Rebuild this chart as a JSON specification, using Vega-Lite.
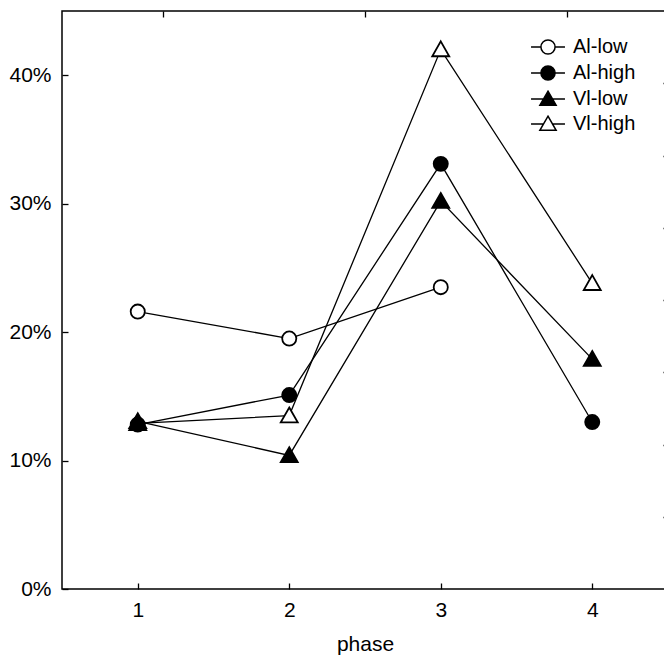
{
  "$schema": "https://vega.github.io/schema/vega-lite/v6.json",
  "width": 606,
  "height": 578,
  "autosize": {"type": "none"},
  "padding": {"left": 62, "top": 11, "right": 0, "bottom": 71},
  "config": {
    "font": "Liberation Sans",
    "view": {"stroke": "black", "strokeWidth": 1.5},
    "axis": {
      "domain": false,
      "grid": false,
      "tickColor": "black",
      "tickWidth": 1.3,
      "labelColor": "black",
      "labelFontSize": 21,
      "titleFontSize": 21,
      "titleFontWeight": "normal",
      "titleColor": "black"
    }
  },
  "data": {
    "values": [
      {"phase": 1, "value": 0.216, "group": "Al-low"},
      {"phase": 2, "value": 0.195, "group": "Al-low"},
      {"phase": 3, "value": 0.235, "group": "Al-low"},
      {"phase": 1, "value": 0.129, "group": "Vl-high"},
      {"phase": 2, "value": 0.135, "group": "Vl-high"},
      {"phase": 3, "value": 0.420, "group": "Vl-high"},
      {"phase": 4, "value": 0.238, "group": "Vl-high"},
      {"phase": 1, "value": 0.128, "group": "Al-high"},
      {"phase": 2, "value": 0.151, "group": "Al-high"},
      {"phase": 3, "value": 0.331, "group": "Al-high"},
      {"phase": 4, "value": 0.130, "group": "Al-high"},
      {"phase": 1, "value": 0.1305, "group": "Vl-low"},
      {"phase": 2, "value": 0.104, "group": "Vl-low"},
      {"phase": 3, "value": 0.302, "group": "Vl-low"},
      {"phase": 4, "value": 0.179, "group": "Vl-low"}
    ]
  },
  "resolve": {
    "scale": {"shape": "independent", "fill": "independent"},
    "axis": {"x": "independent", "y": "independent"}
  },
  "layer": [
    {
      "mark": {"type": "line", "color": "black", "strokeWidth": 1.3},
      "encoding": {
        "x": {"field": "phase", "type": "quantitative",
              "scale": {"domain": [0.5, 4.5], "nice": false, "zero": false},
              "axis": {"orient": "bottom", "values": [1, 2, 3, 4], "tickSize": -6, "labelPadding": 16, "title": "phase", "titlePadding": 13}},
        "y": {"field": "value", "type": "quantitative",
              "scale": {"domain": [0, 0.45], "nice": false},
              "axis": {"orient": "left", "values": [0, 0.1, 0.2, 0.3, 0.4], "format": ".0%", "tickSize": -6, "labelPadding": 17, "title": null}},
        "detail": {"field": "group"}
      }
    },
    {
      "mark": {"type": "point", "filled": true, "stroke": "black", "strokeWidth": 1.8, "opacity": 1, "size": 200},
      "encoding": {
        "x": {"field": "phase", "type": "quantitative",
              "axis": {"orient": "top", "values": [1.1667, 2.5, 3.8333], "labels": false, "tickSize": -6, "title": null}},
        "y": {"field": "value", "type": "quantitative",
              "axis": {"orient": "right", "values": [0.05625, 0.1125, 0.16875, 0.225, 0.28125, 0.3375, 0.39375], "labels": false, "tickSize": -5, "title": null}},
        "shape": {"field": "group", "type": "nominal", "legend": null,
                  "scale": {"domain": ["Al-low", "Al-high", "Vl-low", "Vl-high"],
                            "range": ["M-1,0A1,1 0 1,1 1,0A1,1 0 1,1 -1,0Z", "M-1,0A1,1 0 1,1 1,0A1,1 0 1,1 -1,0Z", "M0,-1.15L1.2,0.95L-1.2,0.95Z", "M0,-1.15L1.2,0.95L-1.2,0.95Z"]}},
        "fill": {"field": "group", "type": "nominal", "legend": null,
                 "scale": {"domain": ["Al-low", "Al-high", "Vl-low", "Vl-high"], "range": ["white", "black", "black", "white"]}}
      }
    },
    {
      "mark": {"type": "point", "filled": true, "stroke": "black", "strokeWidth": 1.8, "opacity": 0, "size": 200},
      "encoding": {
        "x": {"field": "phase", "type": "quantitative", "axis": null},
        "y": {"field": "value", "type": "quantitative", "axis": null},
        "shape": {"field": "group", "type": "nominal",
                  "scale": {"domain": ["Al-low", "Al-high", "Vl-low", "Vl-high"],
                            "range": ["M-2.4,0H-1M1,0H2.4M-1,0A1,1 0 1,1 1,0A1,1 0 1,1 -1,0Z", "M-2.4,0H-1M1,0H2.4M-1,0A1,1 0 1,1 1,0A1,1 0 1,1 -1,0Z", "M-2.4,0H-0.63M0.63,0H2.4M0,-1.1L1.15,0.9L-1.15,0.9Z", "M-2.4,0H-0.63M0.63,0H2.4M0,-1.1L1.15,0.9L-1.15,0.9Z"]},
                  "legend": {"orient": "none", "legendX": 476, "legendY": 26, "title": null, "padding": 0,
                             "symbolSize": 200, "symbolOpacity": 1,
                             "labelFontSize": 20, "labelColor": "black", "labelOffset": 15, "rowPadding": 4,
                             "encode": {"symbols": {"update": {"stroke": {"value": "black"}, "strokeWidth": {"value": 1.6}, "opacity": {"value": 1}}}}}},
        "fill": {"field": "group", "type": "nominal",
                 "scale": {"domain": ["Al-low", "Al-high", "Vl-low", "Vl-high"], "range": ["white", "black", "black", "white"]},
                 "legend": {"orient": "none", "legendX": 476, "legendY": 26, "title": null, "padding": 0,
                             "symbolSize": 200, "symbolOpacity": 1,
                             "labelFontSize": 20, "labelColor": "black", "labelOffset": 15, "rowPadding": 4,
                             "encode": {"symbols": {"update": {"stroke": {"value": "black"}, "strokeWidth": {"value": 1.6}, "opacity": {"value": 1}}}}}}
      }
    }
  ]
}
